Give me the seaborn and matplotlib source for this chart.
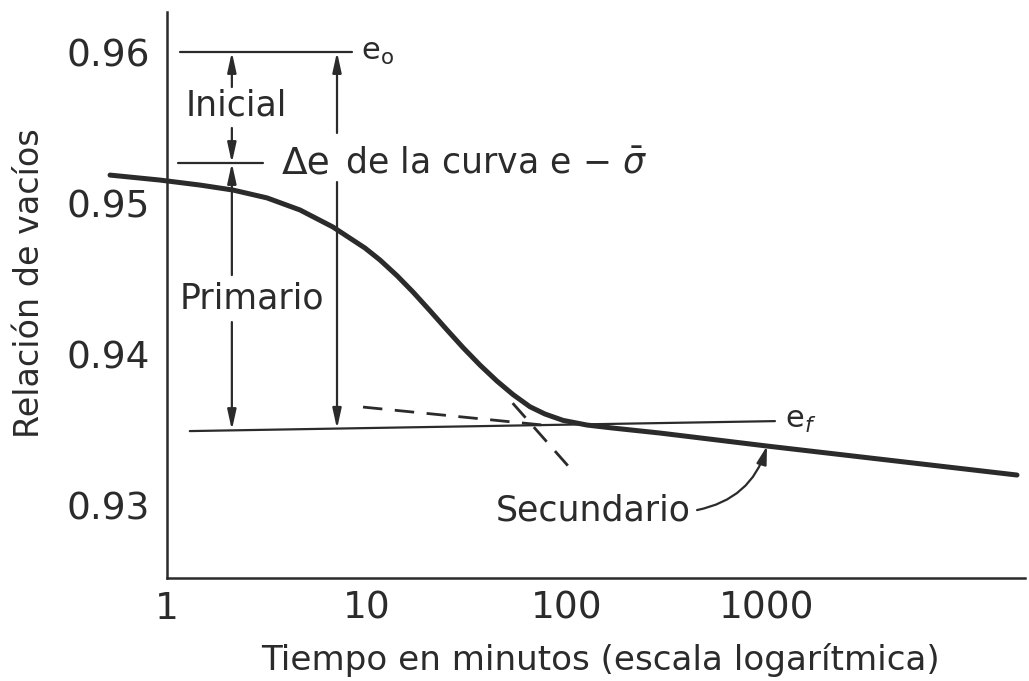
import matplotlib
matplotlib.use("Agg")
import matplotlib.pyplot as plt
import pandas as pd
import seaborn as sns

# Consolidation curve: void ratio vs. time (log scale)
time_min = [0.519, 0.923, 1.462, 2.138, 3.162, 4.624, 6.761, 9.772, 11.61,
            14.13, 16.98, 20.65, 25.12, 30.20, 36.73, 44.67, 53.70, 65.31,
            77.62, 95.50, 125.9, 169.8, 291.7, 1000, 17783]
void_ratio = [0.95185, 0.95152, 0.95119, 0.95086, 0.95034, 0.94954, 0.94841,
              0.94702, 0.94623, 0.94519, 0.94411, 0.94287, 0.94160, 0.94043,
              0.93927, 0.93821, 0.93732, 0.93651, 0.93603, 0.93561, 0.93530,
              0.93510, 0.93477, 0.93391, 0.93199]

# Reference levels
e0 = 0.960
e_delta = 0.95265
e0_span = [1.16, 8.4]
edelta_span = [1.13, 3.02]
ef_t = [1.30, 1096]
ef_e = [0.93490, 0.93556]

# Construction tangents (dashed)
sec_tan_t = [9.55, 75.9]
sec_tan_e = [0.93649, 0.93530]
prim_tan_t = [53.5, 103.5]
prim_tan_e = [0.93675, 0.93245]

x_ticks = [1, 10, 100, 1000]
x_ticklabels = ["1", "10", "100", "1000"]
y_ticks = [0.93, 0.94, 0.95, 0.96]
y_ticklabels = ["0.93", "0.94", "0.95", "0.96"]

sns.set_theme(style="white")
plt.rcParams["font.family"] = ["DejaVu Sans"]
plt.rcParams["mathtext.fontset"] = "dejavusans"

INK = "#2b2b2b"

fig = plt.figure(figsize=(10.29, 6.81), dpi=100)
ax = fig.add_axes([0.1623, 0.1512, 0.8338, 0.8312])

df = pd.DataFrame({"t": time_min, "e": void_ratio})
sns.lineplot(data=df, x="t", y="e", ax=ax, color=INK, lw=3.6,
             solid_capstyle="round", solid_joinstyle="round", sort=False)
ax.lines[-1].set_clip_on(False)

ax.set_xscale("log")
ax.set_xlim(1, 19500)
ax.set_ylim(0.92517, 0.96265)

# Reference lines
ax.plot(e0_span, [e0, e0], color=INK, lw=1.6)
ax.plot(edelta_span, [e_delta, e_delta], color=INK, lw=1.6)
ax.plot(ef_t, ef_e, color=INK, lw=1.6)

ax.plot(sec_tan_t, sec_tan_e, color=INK, lw=2.0, dashes=(7, 4.5))
ax.plot(prim_tan_t, prim_tan_e, color=INK, lw=2.0, dashes=(7, 4.5))

arrow = dict(arrowstyle="-|>,head_length=1.0,head_width=0.22", color=INK,
             lw=1.6, shrinkA=0, shrinkB=0)


def seg(x, y_from, y_to):
    ax.annotate("", xy=(x, y_to), xytext=(x, y_from), arrowprops=arrow)


xa, xb = 2.11, 7.08
seg(xa, 0.95768, e0)
seg(xa, 0.95497, e_delta)
seg(xa, 0.94523, e_delta)
seg(xa, 0.94212, 0.93497)
seg(xb, 0.95464, e0)
seg(xb, 0.95139, 0.93505)

txt = dict(color=INK)
ax.text(2.21, 0.95649, "Inicial", fontsize=25, ha="center", va="center", **txt)
ax.text(1.16, 0.94371, "Primario", fontsize=25, ha="left", va="center", **txt)
ax.text(136, 0.92967, "Secundario", fontsize=25, ha="center", va="center", **txt)
ax.text(9.3, 0.96, r"$\mathregular{e_o}$", fontsize=22, ha="left",
        va="center", **txt)
ax.text(1230, 0.93563, r"$\mathregular{e_{\it f}}$", fontsize=22, ha="left",
        va="center", **txt)
ax.text(4.95, 0.95265, "Δe", fontsize=27, ha="center", va="center", **txt)
ax.text(7.76, 0.95265, r"de la curva e − $\bar{\sigma}$", fontsize=25,
        ha="left", va="center", **txt)

ax.annotate("", xy=(1000, 0.93391), xytext=(447, 0.92967),
            arrowprops=dict(arrowstyle="-|>,head_length=0.9,head_width=0.25",
                            color=INK, lw=1.6, shrinkA=0, shrinkB=0,
                            connectionstyle="arc3,rad=0.3"))

ax.set_xticks(x_ticks)
ax.set_xticklabels(x_ticklabels)
ax.xaxis.set_minor_locator(matplotlib.ticker.NullLocator())
ax.set_yticks(y_ticks)
ax.set_yticklabels(y_ticklabels)
ax.tick_params(axis="both", direction="in", length=6, width=1.5, colors=INK,
               labelsize=27)
ax.tick_params(axis="y", pad=12)
ax.tick_params(axis="x", pad=9)

ax.set_xlabel("Tiempo en minutos (escala logarítmica)", fontsize=24.6,
              color=INK)
ax.set_ylabel("Relación de vacíos", fontsize=24, color=INK)
ax.xaxis.set_label_coords(0.505, -0.145)
ax.xaxis.label.set_va("center")
ax.yaxis.set_label_coords(-0.160, 0.521)
ax.yaxis.label.set_va("center")

for side in ["top", "right"]:
    ax.spines[side].set_visible(False)
for side in ["left", "bottom"]:
    ax.spines[side].set_color(INK)
    ax.spines[side].set_linewidth(1.8)

fig.savefig("out.png", dpi=100, facecolor="white")
